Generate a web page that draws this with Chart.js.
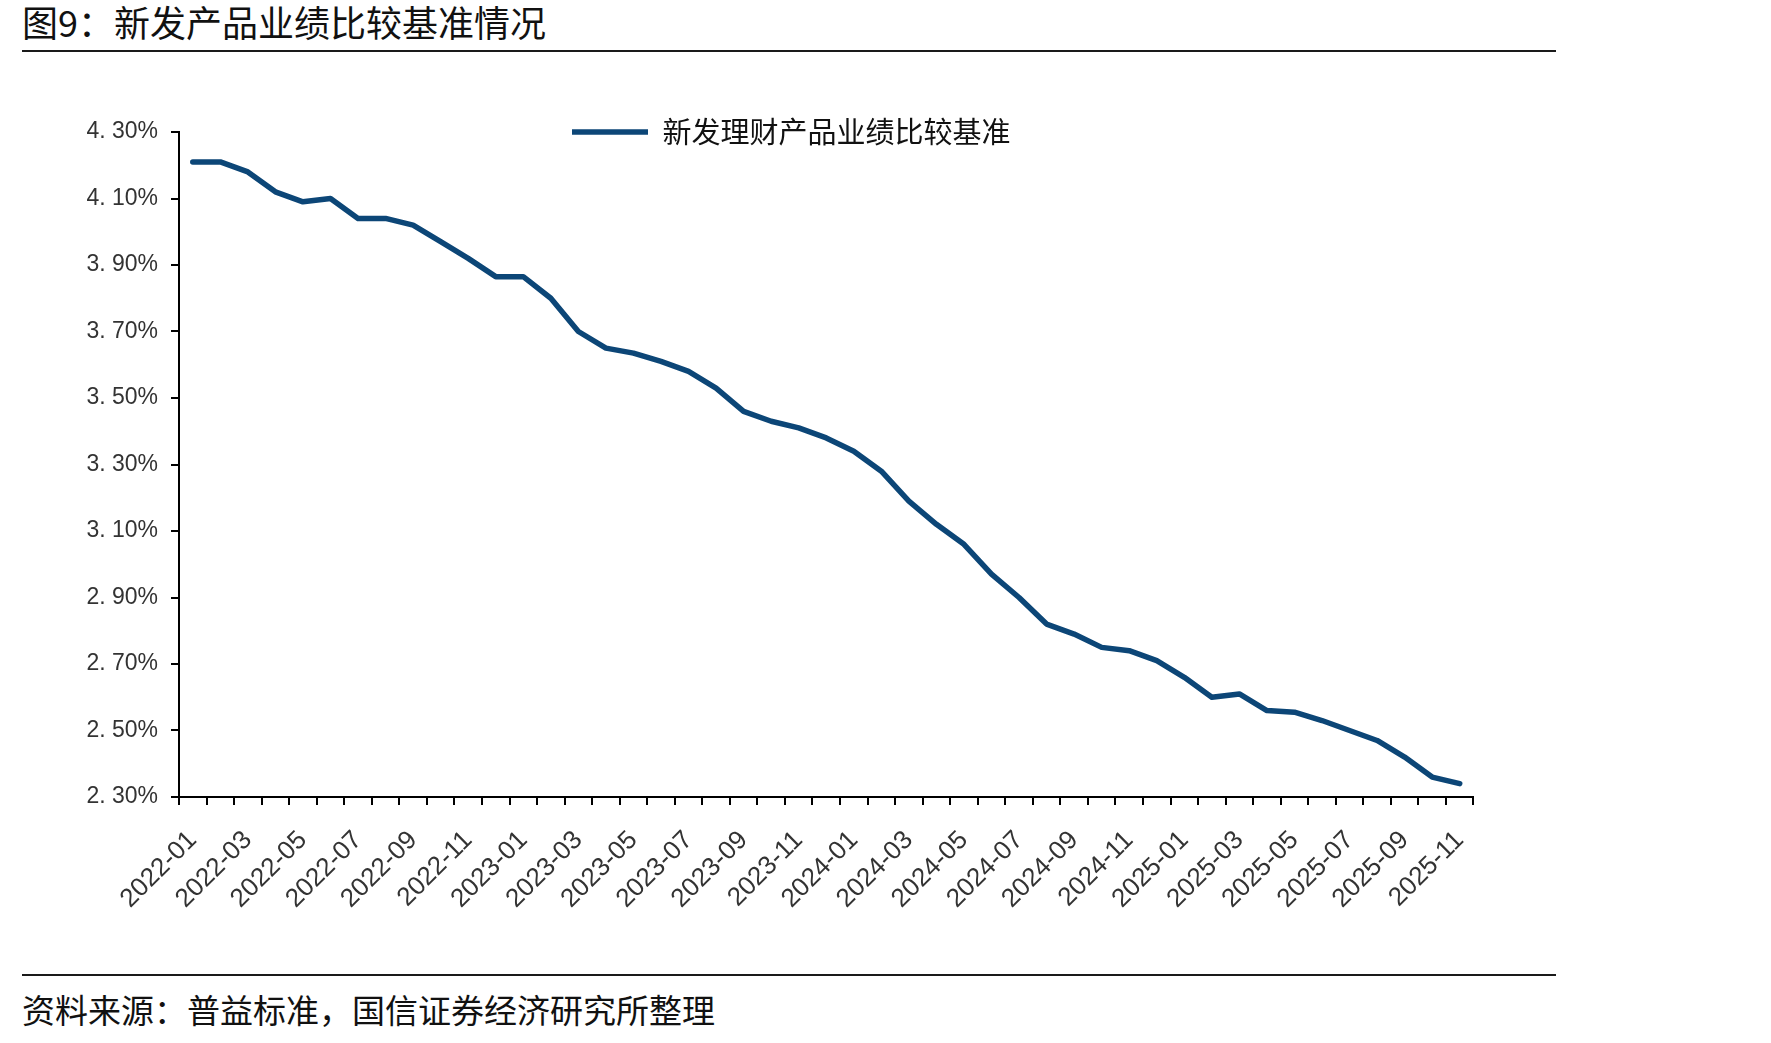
<!DOCTYPE html>
<html lang="zh-CN">
<head>
<meta charset="UTF-8" />
<title>图9：新发产品业绩比较基准情况</title>
<script src="https://cdn.jsdelivr.net/npm/chart.js"></script>
<style>
    body {
        margin: 0;
        background: #fff;
        width: 1771px;
        height: 1043px;
        overflow: hidden;
        position: relative;
        font-family: "Noto Sans CJK SC", sans-serif;
        color: #111;
    }
    .title {
        position: absolute;
        left: 22px;
        top: 0;
        font-size: 36px;
        line-height: 43px;
        white-space: nowrap;
    }
    .rule {
        position: absolute;
        left: 22px;
        width: 1534px;
        height: 2px;
        background: #1a1a1a;
    }
    .source {
        position: absolute;
        left: 22px;
        top: 989px;
        font-size: 33px;
        line-height: 40px;
        white-space: nowrap;
    }
    #wrap {
        position: absolute;
        left: 0;
        top: 0;
    }
</style>
</head>
<body>

<div class="title">图9：新发产品业绩比较基准情况</div>
<div class="rule" style="top:50px"></div>
<div id="wrap"></div>
<div class="rule" style="top:974px"></div>
<div class="source">资料来源：普益标准，国信证券经济研究所整理</div>

<script>
    const months = [
        '2022-01', '2022-02', '2022-03', '2022-04', '2022-05', '2022-06',
        '2022-07', '2022-08', '2022-09', '2022-10', '2022-11', '2022-12',
        '2023-01', '2023-02', '2023-03', '2023-04', '2023-05', '2023-06',
        '2023-07', '2023-08', '2023-09', '2023-10', '2023-11', '2023-12',
        '2024-01', '2024-02', '2024-03', '2024-04', '2024-05', '2024-06',
        '2024-07', '2024-08', '2024-09', '2024-10', '2024-11', '2024-12',
        '2025-01', '2025-02', '2025-03', '2025-04', '2025-05', '2025-06',
        '2025-07', '2025-08', '2025-09', '2025-10', '2025-11'
    ];

    // 新发理财产品业绩比较基准 (%)
    const benchmark = [
        4.21, 4.21, 4.18, 4.12, 4.09, 4.10, 4.04, 4.04, 4.02, 3.97, 3.92, 3.865,
        3.865, 3.80, 3.70, 3.65, 3.635, 3.61, 3.58, 3.53, 3.46, 3.43, 3.41, 3.38,
        3.34, 3.28, 3.19, 3.12, 3.06, 2.97, 2.90, 2.82, 2.79, 2.75, 2.74, 2.71,
        2.66, 2.60, 2.61, 2.56, 2.555, 2.53, 2.50, 2.47, 2.42, 2.36, 2.34
    ];

    const yTicks = [2.3, 2.5, 2.7, 2.9, 3.1, 3.3, 3.5, 3.7, 3.9, 4.1, 4.3];

    // where the plot area sits on the page
    const AREA = { left: 179, top: 132, right: 1475, bottom: 797 };
    const LEGEND_X = 572;
    const LEGEND_FONT = 29;
    const LEGEND_PAD = 10;

    const legendPlace = {
        id: 'legendPlace',
        afterLayout(chart) {
            const lg = chart.legend;
            if (!lg) return;
            const w = lg.width, h = lg.height;
            lg.left = chart.chartArea.left + (LEGEND_X - AREA.left) - LEGEND_PAD;
            lg.right = lg.left + w;
            lg.top = chart.chartArea.top - LEGEND_PAD - LEGEND_FONT / 2;
            lg.bottom = lg.top + h;
        }
    };

    function makeConfig() {
        return {
            type: 'line',
            data: {
                labels: months,
                datasets: [{
                    label: '新发理财产品业绩比较基准',
                    data: benchmark,
                    borderColor: '#0c4677',
                    backgroundColor: '#0c4677',
                    borderWidth: 5.5,
                    pointRadius: 0,
                    tension: 0,
                    borderJoinStyle: 'round',
                    borderCapStyle: 'round',
                    fill: false
                }]
            },
            options: {
                responsive: false,
                animation: false,
                devicePixelRatio: 1,
                layout: { padding: { left: 0, right: 20, top: 0, bottom: 0 } },
                plugins: {
                    legend: {
                        position: 'top',
                        align: 'start',
                        labels: {
                            usePointStyle: true,
                            pointStyle: 'line',
                            pointStyleWidth: 76,
                            padding: LEGEND_PAD,
                            color: '#111',
                            font: { family: '"Noto Sans CJK SC"', size: LEGEND_FONT }
                        }
                    },
                    tooltip: { enabled: false }
                },
                scales: {
                    x: {
                        offset: true,
                        grid: {
                            offset: true,
                            drawOnChartArea: false,
                            tickLength: 8,
                            color: '#000',
                            lineWidth: 2
                        },
                        border: { display: true, color: '#000', width: 2 },
                        ticks: {
                            autoSkip: false,
                            maxRotation: 45,
                            minRotation: 45,
                            padding: 20,
                            color: '#333',
                            font: { family: '"Liberation Sans"', size: 26 },
                            callback: (v, i) => (i % 2 === 0 ? months[i] : '')
                        },
                        afterFit: s => { s.height = 150; }
                    },
                    y: {
                        min: 2.3,
                        max: 4.3,
                        grid: {
                            drawOnChartArea: false,
                            tickLength: 8,
                            color: '#000',
                            lineWidth: 2
                        },
                        border: { display: true, color: '#000', width: 2 },
                        ticks: {
                            padding: 13,
                            color: '#333',
                            font: { family: '"Liberation Sans"', size: 23 },
                            callback: v => v.toFixed(2).replace('.', '. ') + '%'
                        },
                        afterBuildTicks: s => { s.ticks = yTicks.map(v => ({ value: v })); },
                        afterFit: s => { s.width = 150; }
                    }
                }
            },
            plugins: [legendPlace]
        };
    }

    const wrap = document.getElementById('wrap');
    let W = 1580, H = 900;

    function build() {
        wrap.innerHTML = '<canvas id="c"></canvas>';
        const cv = document.getElementById('c');
        cv.width = W;
        cv.height = H;
        cv.style.width = W + 'px';
        cv.style.height = H + 'px';
        return new Chart(cv, makeConfig());
    }

    // first pass to measure, second pass sized so the plot area lands in place
    let chart = build();
    let ca = chart.chartArea;
    W += (AREA.right - AREA.left) - (ca.right - ca.left);
    H += (AREA.bottom - AREA.top) - (ca.bottom - ca.top);
    chart.destroy();
    chart = build();
    ca = chart.chartArea;
    wrap.style.left = (AREA.left - ca.left) + 'px';
    wrap.style.top = (AREA.top - ca.top) + 'px';
</script>

</body>
</html>
